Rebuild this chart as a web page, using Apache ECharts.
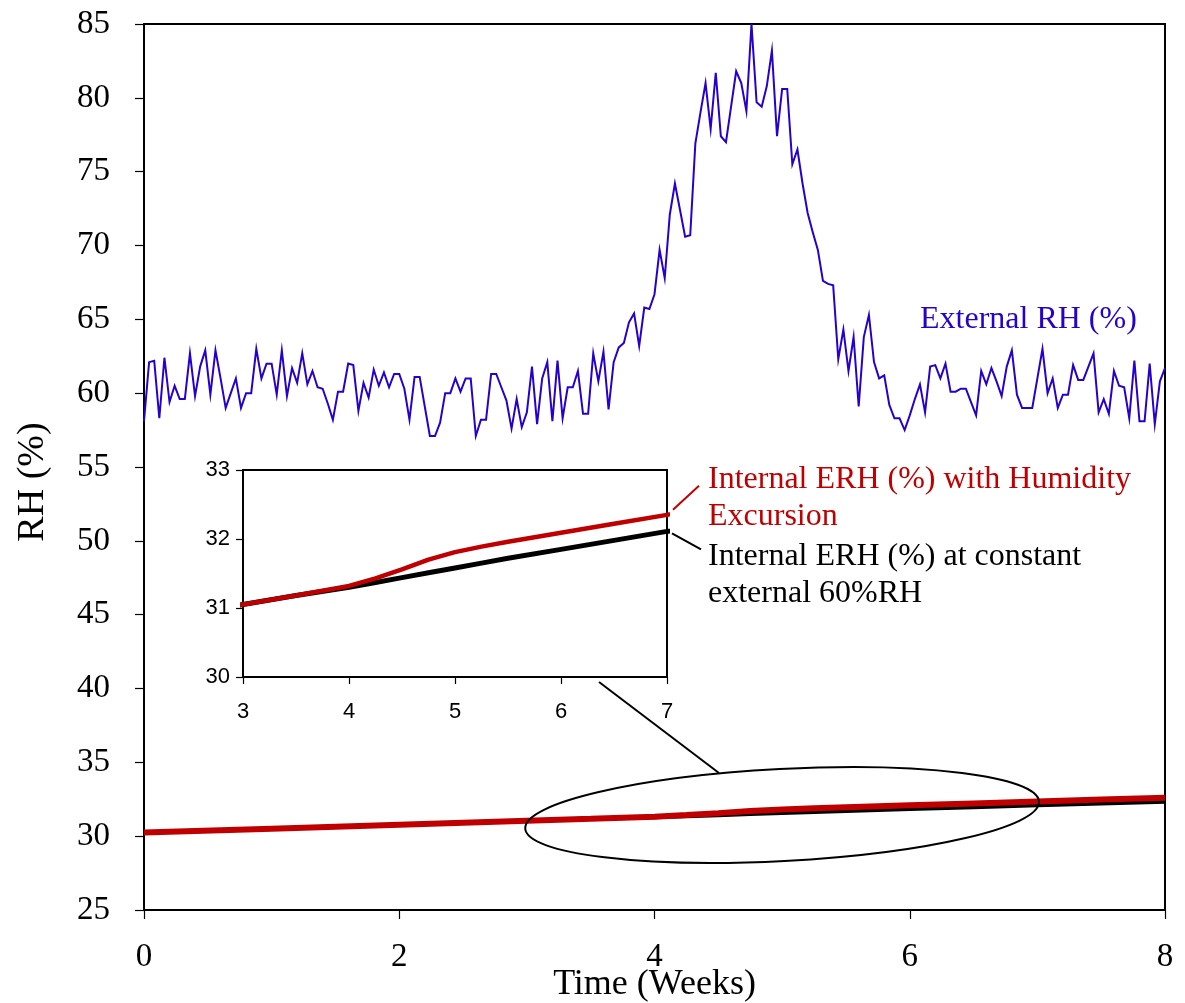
<!DOCTYPE html>
<html>
<head>
<meta charset="utf-8">
<title>RH and internal ERH over time</title>
<script src="https://cdn.jsdelivr.net/npm/echarts@6/dist/echarts.min.js"></script>
<style>
  html, body { margin: 0; padding: 0; background: #fff; overflow: hidden; }
  #chart { width: 1185px; height: 1003px; }
</style>
</head>
<body>
<div id="chart"></div>
<script>
// External RH (%) logged every 0.04 weeks from week 0 to week 8
const externalStepWeeks = 0.04;
const externalRH = [
  58.1, 62.1, 62.2, 58.3, 62.4, 59.4, 60.5, 59.6, 59.6, 62.7,
  59.8, 61.8, 62.9, 59.9, 62.9, 61.0, 59.0, 60.0, 61.0, 59.0,
  60.0, 60.0, 63.0, 61.0, 62.0, 62.0, 59.9, 62.9, 59.8, 61.7,
  60.7, 62.7, 60.6, 61.5, 60.4, 60.3, 59.3, 58.2, 60.1, 60.1,
  62.0, 61.9, 58.8, 60.7, 59.7, 61.6, 60.5, 61.4, 60.4, 61.3,
  61.3, 60.3, 58.2, 61.1, 61.1, 59.1, 57.1, 57.1, 58.0, 60.0,
  60.0, 61.0, 60.1, 61.0, 61.0, 57.1, 58.2, 58.2, 61.3, 61.3,
  60.4, 59.5, 57.6, 59.6, 57.7, 58.7, 61.8, 57.9, 61.0, 62.1,
  58.1, 62.2, 58.3, 60.4, 60.4, 61.5, 58.6, 58.6, 62.7, 60.8,
  62.8, 58.9, 62.1, 63.1, 63.4, 64.8, 65.4, 63.2, 65.8, 65.7,
  66.7, 69.7, 67.8, 72.1, 74.2, 72.4, 70.6, 70.7, 76.9, 79.0,
  81.0, 77.9, 81.7, 77.4, 77.0, 79.4, 81.8, 81.0, 79.1, 85.0,
  79.7, 79.4, 80.8, 83.2, 77.4, 80.6, 80.6, 75.5, 76.5, 74.2,
  72.2, 70.9, 69.7, 67.6, 67.4, 67.3, 62.3, 64.3, 61.5, 63.8,
  59.1, 63.8, 65.3, 62.1, 61.0, 61.2, 59.2, 58.3, 58.3, 57.5,
  58.5, 59.6, 60.6, 58.7, 61.8, 61.9, 61.0, 62.0, 60.1, 60.1,
  60.3, 60.3, 59.4, 58.5, 61.5, 60.6, 61.7, 60.8, 59.8, 61.8,
  62.9, 59.9, 59.0, 59.0, 59.0, 61.0, 63.0, 60.0, 61.0, 59.0,
  59.9, 59.9, 61.9, 60.9, 60.9, 61.8, 62.7, 58.7, 59.6, 58.6,
  61.5, 60.5, 60.4, 58.3, 62.2, 58.1, 58.1, 62.0, 57.9, 60.8,
  61.7
];

// Internal ERH (%) model output, sampled at these weeks
const erhWeeks = [0, 1, 2, 3, 3.5, 4, 4.25, 4.5, 4.75, 5, 5.25, 5.5, 6, 6.5, 7, 7.5, 8];
const erhExcursion = [30.25, 30.51, 30.78, 31.05, 31.18, 31.32, 31.43, 31.56, 31.70, 31.81, 31.89, 31.96, 32.09, 32.22, 32.35, 32.48, 32.60];
const erhConstant = [30.25, 30.51, 30.78, 31.05, 31.18, 31.30, 31.37, 31.44, 31.51, 31.58, 31.65, 31.72, 31.85, 31.98, 32.11, 32.23, 32.35];

// Axis ranges and titles
const xTitle = 'Time (Weeks)';
const yTitle = 'RH (%)';
const mainX = { min: 0, max: 8, step: 2 };
const mainY = { min: 25, max: 85, step: 5 };
const zoomX = { min: 3, max: 7, step: 1 };
const zoomY = { min: 30, max: 33, step: 1 };

const labelExternal = 'External RH (%)';
const labelExcursion = 'Internal ERH (%) with Humidity\nExcursion';
const labelConstant = 'Internal ERH (%) at constant\nexternal 60%RH';

const SERIF = '"Times New Roman", "Liberation Serif", serif';
const SANS = '"Liberation Sans", Arial, sans-serif';
const BLUE = '#2600cc';
const RED = '#c00000';
const BLACK = '#000000';

const pairs = (xs, ys) => ys.map((v, i) => [xs[i], v]);
const externalData = externalRH.map((v, i) => [+(i * externalStepWeeks).toFixed(2), v]);

const chart = echarts.init(document.getElementById('chart'), null, { renderer: 'canvas', width: 1185, height: 1003 });

function axisCommon(tickLen) {
  return {
    axisLine: { show: true, onZero: false, lineStyle: { color: BLACK, width: 2 } },
    axisTick: { show: true, inside: false, length: tickLen, lineStyle: { color: BLACK, width: 1.2 } },
    splitLine: { show: false }
  };
}

chart.setOption({
  animation: false,
  backgroundColor: '#fff',
  grid: [
    { left: 144, top: 24, width: 1021, height: 886, show: true, borderColor: BLACK, borderWidth: 2, backgroundColor: 'transparent', containLabel: false, outerBoundsMode: 'none' },
    { left: 243, top: 470, width: 424, height: 207, show: true, borderColor: BLACK, borderWidth: 2, backgroundColor: '#fff', containLabel: false, outerBoundsMode: 'none', z: 5 }
  ],
  xAxis: [
    Object.assign(axisCommon(9), {
      type: 'value', gridIndex: 0, min: mainX.min, max: mainX.max, interval: mainX.step,
      axisLabel: { color: BLACK, fontFamily: SERIF, fontSize: 33, margin: 31 },
      name: xTitle, nameLocation: 'middle', nameGap: 57, nameMoveOverlap: false,
      nameTextStyle: { color: BLACK, fontFamily: SERIF, fontSize: 36 }
    }),
    Object.assign(axisCommon(7), {
      type: 'value', gridIndex: 1, min: zoomX.min, max: zoomX.max, interval: zoomX.step, z: 6,
      axisLabel: { color: BLACK, fontFamily: SANS, fontSize: 22, margin: 24 }
    })
  ],
  yAxis: [
    Object.assign(axisCommon(9), {
      type: 'value', gridIndex: 0, min: mainY.min, max: mainY.max, interval: mainY.step,
      axisLabel: { color: BLACK, fontFamily: SERIF, fontSize: 33, margin: 34 },
      name: yTitle, nameLocation: 'middle', nameGap: 92, nameMoveOverlap: false,
      nameTextStyle: { color: BLACK, fontFamily: SERIF, fontSize: 38, padding: [0, 30, 0, 0] }
    }),
    Object.assign(axisCommon(7), {
      type: 'value', gridIndex: 1, min: zoomY.min, max: zoomY.max, interval: zoomY.step, z: 6,
      axisLabel: { color: BLACK, fontFamily: SANS, fontSize: 22, margin: 13 }
    })
  ],
  series: [
    {
      name: labelExternal, type: 'line', xAxisIndex: 0, yAxisIndex: 0,
      data: externalData, showSymbol: false, symbol: 'none', z: 3,
      lineStyle: { color: BLUE, width: 2, join: 'miter' }
    },
    {
      name: 'ERH constant', type: 'line', xAxisIndex: 0, yAxisIndex: 0,
      data: pairs(erhWeeks, erhConstant), symbol: 'none', z: 4,
      lineStyle: { color: BLACK, width: 4.5 }
    },
    {
      name: 'ERH excursion', type: 'line', xAxisIndex: 0, yAxisIndex: 0,
      data: pairs(erhWeeks, erhExcursion), symbol: 'none', z: 5,
      lineStyle: { color: RED, width: 6 }
    },
    {
      name: 'ERH constant (zoom)', type: 'line', xAxisIndex: 1, yAxisIndex: 1,
      data: pairs(erhWeeks, erhConstant), symbol: 'none', z: 7, clip: true,
      lineStyle: { color: BLACK, width: 5 }
    },
    {
      name: 'ERH excursion (zoom)', type: 'line', xAxisIndex: 1, yAxisIndex: 1,
      data: pairs(erhWeeks, erhExcursion), symbol: 'none', z: 8, clip: true,
      lineStyle: { color: RED, width: 4.5 }
    }
  ]
});

// Annotations placed from the axes' own scales
const toMain = (x, y) => chart.convertToPixel({ xAxisIndex: 0, yAxisIndex: 0 }, [x, y]);
const toZoom = (x, y) => chart.convertToPixel({ xAxisIndex: 1, yAxisIndex: 1 }, [x, y]);

const ellLeft = toMain(zoomX.min, 31.4);
const ellRight = toMain(zoomX.max, 31.4);
const ellCenter = toMain((zoomX.min + zoomX.max) / 2, 31.43);
const ellRx = (ellRight[0] - ellLeft[0]) / 2 + 2;
const ellRy = 46;

const zoomBottomRight = toZoom(zoomX.max, zoomY.min);
const redEnd = toZoom(zoomX.max, erhExcursion[erhWeeks.indexOf(7)]);
const blackEnd = toZoom(zoomX.max, erhConstant[erhWeeks.indexOf(7)]);

chart.setOption({
  graphic: [
    {
      type: 'ellipse', z: 20,
      x: ellCenter[0], y: ellCenter[1], rotation: 3 * Math.PI / 180,
      shape: { cx: 0, cy: 0, rx: ellRx, ry: ellRy },
      style: { fill: null, stroke: BLACK, lineWidth: 2 }
    },
    {
      type: 'line', z: 20,
      shape: { x1: zoomBottomRight[0] - 68, y1: zoomBottomRight[1] + 5, x2: zoomBottomRight[0] + 52, y2: zoomBottomRight[1] + 96 },
      style: { stroke: BLACK, lineWidth: 2 }
    },
    {
      type: 'line', z: 20,
      shape: { x1: redEnd[0] + 6, y1: redEnd[1] - 5, x2: redEnd[0] + 32, y2: redEnd[1] - 29 },
      style: { stroke: RED, lineWidth: 2 }
    },
    {
      type: 'line', z: 20,
      shape: { x1: blackEnd[0] + 5, y1: blackEnd[1] + 2, x2: blackEnd[0] + 34, y2: blackEnd[1] + 18 },
      style: { stroke: BLACK, lineWidth: 2 }
    },
    {
      type: 'text', z: 20, x: 920, y: 302,
      style: { text: labelExternal, fill: BLUE, font: '32px ' + SERIF, lineHeight: 36, verticalAlign: 'top' }
    },
    {
      type: 'text', z: 20, x: 708, y: 461,
      style: { text: labelExcursion, fill: RED, font: '32px ' + SERIF, lineHeight: 37, verticalAlign: 'top' }
    },
    {
      type: 'text', z: 20, x: 708, y: 538,
      style: { text: labelConstant, fill: BLACK, font: '32px ' + SERIF, lineHeight: 37, verticalAlign: 'top' }
    }
  ]
});
</script>
</body>
</html>
